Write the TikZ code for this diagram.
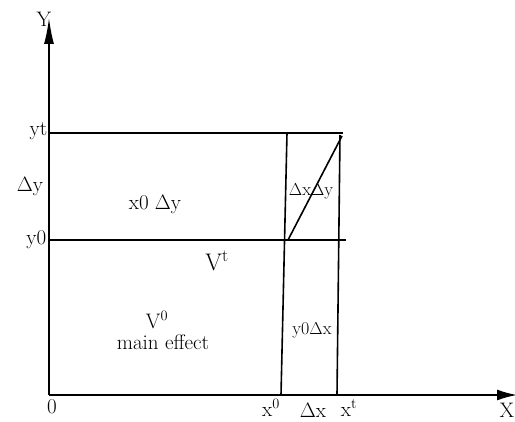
\documentclass[tikz,border=0pt]{standalone}
\usetikzlibrary{arrows.meta}
\begin{document}
\begin{tikzpicture}[x=1pt, y=-1pt, font=\fontsize{21}{24}\selectfont, line width=1.6pt]
    \useasboundingbox (0,0) rectangle (515,422);
    % axes
    \coordinate (O) at (49,395);
    \coordinate (ytop) at (49,18);
    \coordinate (xend) at (517,395);
    \draw[-{Latex[length=26pt, width=10pt]}] (O) -- (ytop);
    \draw[-{Latex[length=20pt, width=11pt]}] (O) -- (xend);
    % horizontal levels
    \coordinate (ytl) at (49,133);  \coordinate (ytr) at (343,133);
    \coordinate (y0l) at (49,240);  \coordinate (y0r) at (346,240);
    \draw (ytl) -- (ytr);
    \draw (y0l) -- (y0r);
    % verticals at x0 and xt
    \coordinate (x0b) at (281,395); \coordinate (x0t) at (287,133);
    \coordinate (xtb) at (337,395); \coordinate (xtt) at (340,135);
    \draw (x0b) -- (x0t);
    \draw (xtb) -- (xtt);
    % path from (x0,y0) to (xt,yt)
    \coordinate (p0) at (288,240);
    \coordinate (pt) at (342,136);
    \draw (p0) -- (pt);
    % labels
    \node (lY)  at (44,19)  {Y};
    \node[anchor=east, inner xsep=0pt] (lX) at (515,410) {X};
    \node[anchor=east, inner xsep=1pt] (lyt) at (49,131) {yt};
    \node[anchor=east, inner xsep=1pt] (ly0) at (48,240) {y0};
    \node (ldy)  at (30,187) {$\Delta$y};
    \node (lzero) at (52,407) {0};
    \node (lx0)  at (271,408) {x$^0$};
    \node[inner sep=0pt] (ldx) at (313,410) {$\Delta$x};
    \node (lxt)  at (349,408) {x$^{\mathrm{t}}$};
    \node (lx0dy) at (155,205) {x0 $\Delta$y};
    \node[inner sep=0pt, font=\fontsize{18}{21}\selectfont] (ldxdy) at (311,191) {$\Delta$x$\Delta$y};
    \node[inner sep=0pt, font=\fontsize{18}{21}\selectfont] (ly0dx) at (312,330) {y0$\Delta$x};
    \node[font=\fontsize{24}{27}\selectfont] (lVt) at (217,261) {V$^{\mathrm{t}}$};
    \node (lV0) at (157,320) {V$^0$};
    \node (lmain) at (163,342) {main effect};
\end{tikzpicture}
\end{document}
